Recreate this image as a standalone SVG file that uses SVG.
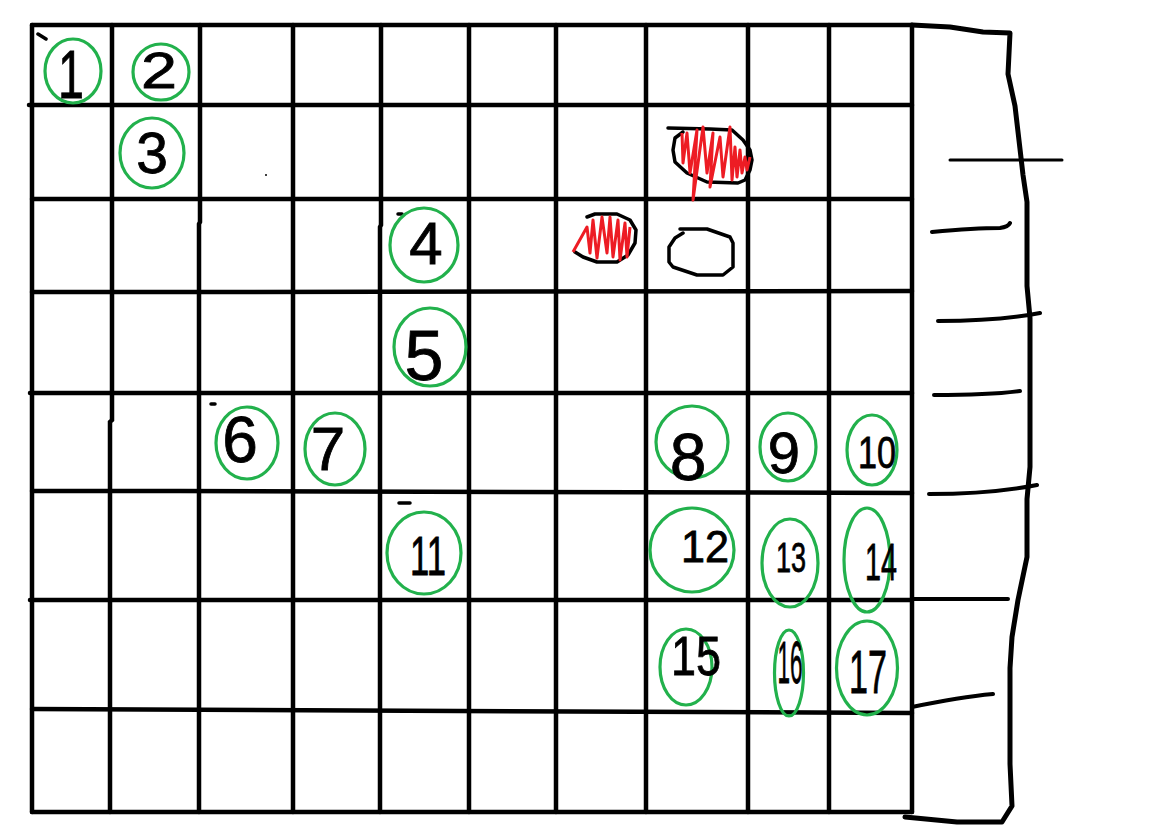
<svg xmlns="http://www.w3.org/2000/svg" width="1152" height="834" viewBox="0 0 1152 834">
<style>
.g{stroke:#000;stroke-width:4.5;fill:none;stroke-linecap:round}
.p{stroke:#000;stroke-width:5;fill:none;stroke-linecap:round;stroke-linejoin:round}
.t{stroke:#000;stroke-width:4;fill:none;stroke-linecap:round}
.c{stroke:#22b14c;stroke-width:3.2;fill:none}
.n{font-family:"Liberation Sans",Arial,sans-serif;fill:#000;stroke:#000;stroke-width:0.8;text-anchor:middle}
.r{stroke:#ed1c24;stroke-width:3;fill:none;stroke-linejoin:round}
.o{stroke:#000;stroke-width:3.5;fill:none;stroke-linejoin:round;stroke-linecap:round}
</style>
<rect width="1152" height="834" fill="#fff"/>
<g id="grid">
<path class="g" d="M32 25H912M29 105H912M32 199H912M32 292H180L912 291M30 393H912M32 491H180L912 493M30 600H912M32 709L912 713M32 812H912"/>
<path class="g" d="M32 25V812M112 25V420L110 422V812M200 25V222L199 224V812M293 25V812M381 25V225L380 227V812M469 25V812M556 25V812M646 25V812M748 25V812M829 25V812M912 25V812"/>
<path class="o" d="M38 34L46 39M398 214L402 214M211 404L215 404M399 503L410 503"/>
<circle cx="266" cy="175" r="1" fill="#000"/>
</g>
<g id="panel">
<path class="p" d="M912 25L950 27L983 32L1010 33L1008 74L1015 106L1020 149L1023 175L1027 202L1027 286L1030 318L1030 467L1027 499L1027 557L1018 600L1012 637L1010 668L1010 764L1012 806L1002 822L957 822L905 817"/>
<path class="t" d="M950 160L1062 160" style="stroke-width:3"/>
<path class="t" d="M932 232Q975 228 1000 228Q1008 227 1010 223M938 321Q1000 321 1040 313M934 395Q990 395 1020 391M929 494Q990 494 1037 485M912 599L1008 599M912 707Q960 697 993 694"/>
</g>
<g id="marks">
<path class="o" d="M668 128L710 129L732 130L743 140L750 150L752 160L750 170L745 180L738 183L707 182L687 173L675 162L673 150L675 138L683 132"/>
<path class="r" d="M682 133L683 163L687 133L690 173L697 130L693 200L703 127L707 173L713 133L710 187L720 137L723 177L730 127L732 180L735 147L737 177L740 150L742 173L745 157L747 170L750 157"/>
<path class="o" d="M587 217L595 214L617 214L630 220L636 230L635 243L628 255L617 262L597 262L583 257L575 252"/>
<path class="r" d="M573 252L587 227L590 253L593 220L597 258L602 217L607 253L610 217L613 257L618 220L620 260L625 223L627 257L630 227"/>
<path class="o" d="M680 229L707 229L730 237L733 243L733 267L723 275L697 275L673 267L669 262L669 247L675 238L683 233"/>
</g>
<g id="connectors"/>
<g id="n1"><ellipse class="c" cx="73" cy="71" rx="28" ry="32"/><text class="n" x="71" y="98" font-size="68" textLength="26" lengthAdjust="spacingAndGlyphs">1</text></g>
<g id="n2"><ellipse class="c" cx="161" cy="72" rx="28" ry="28"/><text class="n" x="159" y="88" font-size="50" textLength="36" lengthAdjust="spacingAndGlyphs">2</text></g>
<g id="n3"><ellipse class="c" cx="152" cy="153" rx="32" ry="35"/><text class="n" x="152" y="173" font-size="57">3</text></g>
<g id="n4"><ellipse class="c" cx="424" cy="245" rx="34" ry="37"/><text class="n" x="426" y="264" font-size="60">4</text></g>
<g id="n5"><ellipse class="c" cx="430" cy="347" rx="36" ry="39"/><text class="n" x="424" y="380" font-size="70">5</text></g>
<g id="n6"><ellipse class="c" cx="247" cy="443" rx="31" ry="36"/><text class="n" x="240" y="462" font-size="64">6</text></g>
<g id="n7"><ellipse class="c" cx="335" cy="449" rx="30" ry="36"/><text class="n" x="328" y="470" font-size="62">7</text></g>
<g id="n8"><ellipse class="c" cx="692" cy="442" rx="36" ry="36"/><text class="n" x="688" y="480" font-size="66">8</text></g>
<g id="n9"><ellipse class="c" cx="788" cy="447" rx="28" ry="34"/><text class="n" x="784" y="473" font-size="58">9</text></g>
<g id="n10"><ellipse class="c" cx="872" cy="450" rx="25" ry="35"/><text class="n" x="877" y="468" font-size="44" textLength="38" lengthAdjust="spacingAndGlyphs">10</text></g>
<g id="n11"><ellipse class="c" cx="424" cy="553" rx="37" ry="41"/><text class="n" x="428" y="575" font-size="56" textLength="36" lengthAdjust="spacingAndGlyphs">11</text></g>
<g id="n12"><ellipse class="c" cx="692" cy="550" rx="42" ry="42"/><text class="n" x="705" y="562" font-size="45" textLength="48" lengthAdjust="spacingAndGlyphs">12</text></g>
<g id="n13"><ellipse class="c" cx="790" cy="563" rx="28" ry="44"/><text class="n" x="791" y="572" font-size="42" textLength="30" lengthAdjust="spacingAndGlyphs">13</text></g>
<g id="n14"><ellipse class="c" cx="867" cy="560" rx="23" ry="52"/><text class="n" x="881" y="580" font-size="52" textLength="32" lengthAdjust="spacingAndGlyphs">14</text></g>
<g id="n15"><ellipse class="c" cx="686" cy="667" rx="26" ry="38"/><text class="n" x="696" y="675" font-size="56" textLength="50" lengthAdjust="spacingAndGlyphs">15</text></g>
<g id="n16"><ellipse class="c" cx="789" cy="673" rx="14.5" ry="43"/><text class="n" x="790" y="683" font-size="60" textLength="25" lengthAdjust="spacingAndGlyphs">16</text></g>
<g id="n17"><ellipse class="c" cx="867" cy="668" rx="30.5" ry="47"/><text class="n" x="868" y="693" font-size="62" textLength="38" lengthAdjust="spacingAndGlyphs">17</text></g>
</svg>
